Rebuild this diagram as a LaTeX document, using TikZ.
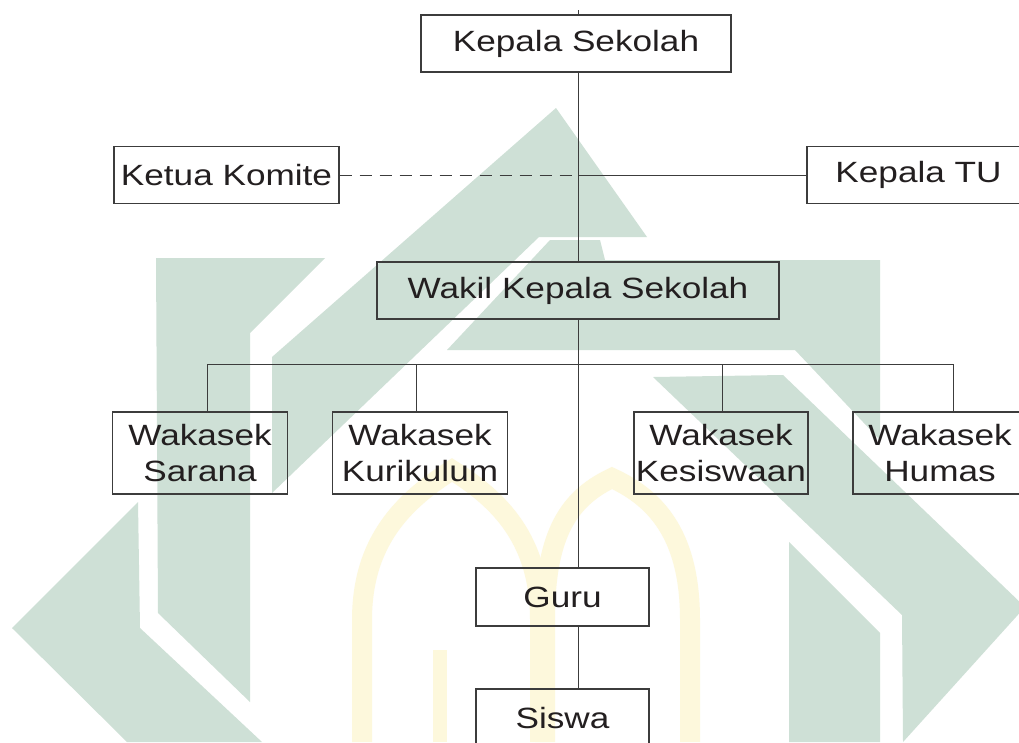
\documentclass[tikz,border=0pt]{standalone}
\usepackage{fontspec}
\setmainfont{Liberation Sans}[FakeStretch=1.2]
\definecolor{wm}{RGB}{206,224,214}
\definecolor{wy}{RGB}{253,248,220}
\definecolor{ink}{RGB}{35,31,32}
\definecolor{edge}{RGB}{60,60,60}
\tikzset{
  box/.style={draw=edge, line width=1.1pt, rectangle, inner sep=0pt, text=ink,
    font=\fontsize{29.3}{36}\selectfont, align=center},
  link/.style={draw=edge, line width=1pt},
  dlink/.style={draw=edge, line width=1pt, dash pattern=on 12pt off 8pt}
}
\begin{document}
\begin{tikzpicture}[x=1pt,y=-1pt]
\useasboundingbox (0,0) rectangle (1019,742);
\begin{scope}
\clip (0,0) rectangle (1019,742);
\fill[white] (0,0) rectangle (1019,742);
% watermark
\fill[wm] (556,108) -- (647,237) -- (539,237) -- (272,493) -- (272,357) -- cycle;
\fill[wm] (156,258) -- (325,258) -- (250,333) -- (250,702) -- (158,613) -- cycle;
\fill[wm] (138,502) -- (12,628) -- (127,742) -- (262,742) -- (140,628) -- cycle;
\fill[wm] (550,240) -- (600,240) -- (605,260) -- (880,260) -- (880,440) -- (795,350) -- (447,350) -- cycle;
\fill[wm] (653,377) -- (783,375) -- (1025,607) -- (903,742) -- (902,615) -- cycle;
\fill[wm] (789,542) -- (880,633) -- (880,742) -- (789,742) -- cycle;
\draw[wy, line width=20pt] (362,742) -- (362,620) .. controls (362,540) and (405,500) .. (452,470) .. controls (500,500) and (540,540) .. (540,620) -- (540,742);
\draw[wy, line width=20pt] (545,742) -- (545,620) .. controls (545,540) and (565,500) .. (612,478) .. controls (660,500) and (690,540) .. (690,620) -- (690,742);
\draw[wy, line width=14pt] (440,742) -- (440,650);

% nodes
\node[box, minimum width=310pt, minimum height=57pt] (ks) at (576,43.5) {Kepala Sekolah};
\node[box, minimum width=225pt, minimum height=57pt] (km) at (226.5,175) {Ketua Komite};
\node[box, minimum width=223pt, minimum height=57pt] (tu) at (918.5,175) {Kepala TU};
\node[box, minimum width=402pt, minimum height=57pt] (wk) at (578,290.5) {Wakil Kepala Sekolah};
\node[box, minimum width=175pt, minimum height=82pt] (sar) at (200,453) {Wakasek\\Sarana};
\node[box, minimum width=175pt, minimum height=82pt] (kur) at (420,453) {Wakasek\\Kurikulum};
\node[box, minimum width=174pt, minimum height=82pt] (kes) at (721,453) {Wakasek\\Kesiswaan};
\node[box, minimum width=174pt, minimum height=82pt] (hum) at (940,453) {Wakasek\\Humas};
\node[box, minimum width=173pt, minimum height=58pt] (guru) at (562.5,597) {Guru};
\node[box, minimum width=173pt, minimum height=58pt] (sis) at (562.5,718) {Siswa};

% connectors
\coordinate (top) at (578,10);
\coordinate (j) at (578,175);
\coordinate (bl) at (207,364);
\coordinate (br) at (953,364);
\coordinate (b2) at (416,364);
\coordinate (b3) at (722,364);
\draw[link] (top) -- (top |- ks.north);
\draw[link] (j |- ks.south) -- (j |- wk.north);
\draw[dlink] (km.east) -- (j);
\draw[link] (j) -- (tu.west);
\draw[link] (j |- wk.south) -- (j |- guru.north);
\draw[link] (bl) -- (br);
\draw[link] (bl) -- (bl |- sar.north);
\draw[link] (b2) -- (b2 |- kur.north);
\draw[link] (b3) -- (b3 |- kes.north);
\draw[link] (br) -- (br |- hum.north);
\draw[link] (j |- guru.south) -- (j |- sis.north);
\end{scope}
\end{tikzpicture}
\end{document}
